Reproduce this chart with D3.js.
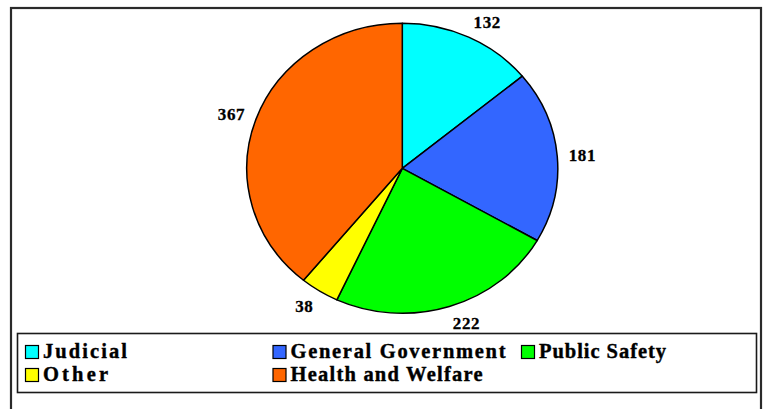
<!DOCTYPE html>
<html>
<head>
<meta charset="utf-8">
<script src="https://cdn.jsdelivr.net/npm/d3@7"></script>
<style>
  html, body { margin: 0; padding: 0; background: #fff; }
  svg { display: block; }
</style>
</head>
<body>
<svg id="chart" width="764" height="409"></svg>
<script>
// Expenditure categories, in drawing order (clockwise from 12 o'clock)
const categories = ["Judicial", "General Government", "Public Safety", "Other", "Health and Welfare"];
const values = [132, 181, 222, 38, 367];
const colors = ["#00FFFF", "#3366FF", "#00FF00", "#FFFF00", "#FF6600"];

// Legend layout: two rows, three columns
const legendRows = [
  ["Judicial", "General Government", "Public Safety"],
  ["Other", "Health and Welfare"]
];
const legendWidths = {
  "Judicial": 84, "General Government": 215, "Public Safety": 127,
  "Other": 65, "Health and Welfare": 192
};

const FONT = "Liberation Serif";

const svg = d3.select("#chart");
const W = 764, H = 409;

// Outer frame (open at the bottom edge of the page)
svg.append("rect")
  .attr("x", 11).attr("y", 8)
  .attr("width", 750).attr("height", H + 20)
  .attr("fill", "none")
  .attr("stroke", "#2a2a2a")
  .attr("stroke-width", 2.2);

// Pie geometry: slightly wider than tall
const cx = 402.3, cy = 168.3, rx = 155.5, ry = 145;
const yr = ry / rx;

const color = d3.scaleOrdinal().domain(categories).range(colors);
const pie = d3.pie().value(d => d.value).sort(null);
const data = categories.map((c, i) => ({ name: c, value: values[i] }));
const arcs = pie(data);
const arc = d3.arc().innerRadius(0).outerRadius(rx);

const g = svg.append("g")
  .attr("transform", `translate(${cx},${cy}) scale(1,${yr})`);

g.selectAll("path.slice")
  .data(arcs)
  .join("path")
  .attr("class", "slice")
  .attr("d", arc)
  .attr("fill", d => color(d.data.name))
  .attr("stroke", "#000")
  .attr("stroke-width", 1.5)
  .attr("vector-effect", "non-scaling-stroke")
  .attr("stroke-linejoin", "round");

// Value labels placed just outside the rim
const labelR = 167;
const capH = 13;
svg.selectAll("text.val")
  .data(arcs)
  .join("text")
  .attr("class", "val")
  .each(function(d) {
    const a = (d.startAngle + d.endAngle) / 2;
    const s = Math.sin(a), c = Math.cos(a);
    const px = cx + labelR * s;
    const py = cy - labelR * c * yr;
    const anchor = s > 0.15 ? "start" : (s < -0.15 ? "end" : "middle");
    d3.select(this)
      .attr("x", px)
      .attr("y", py + capH * (1 - c) / 2)
      .attr("text-anchor", anchor);
  })
  .attr("font-family", FONT)
  .attr("font-weight", "bold")
  .attr("font-size", 17)
  .attr("letter-spacing", 0.6)
  .attr("fill", "#000")
  .attr("stroke", "#000")
  .attr("stroke-width", 0.3)
  .text(d => d.data.value);

// Legend box
svg.append("rect")
  .attr("x", 17.5).attr("y", 333.5)
  .attr("width", 739).attr("height", 59)
  .attr("fill", "#fff")
  .attr("stroke", "#1a1a1a")
  .attr("stroke-width", 1.6);

const colX = [25, 272.5, 521];
const rowY = [345, 368];
const lg = svg.append("g");
legendRows.forEach((row, ri) => {
  row.forEach((name, ci) => {
    const item = lg.append("g").attr("transform", `translate(${colX[ci]},${rowY[ri]})`);
    item.append("rect")
      .attr("x", 0.5).attr("y", 0.5)
      .attr("width", 13).attr("height", 13)
      .attr("fill", color(name))
      .attr("stroke", "#000")
      .attr("stroke-width", 1.2);
    item.append("text")
      .attr("x", 18).attr("y", 13)
      .attr("font-family", FONT)
      .attr("font-weight", "bold")
      .attr("font-size", 20.5)
      .attr("fill", "#000")
      .attr("stroke", "#000")
      .attr("stroke-width", 0.4)
      .attr("textLength", legendWidths[name])
      .attr("lengthAdjust", "spacing")
      .text(name);
  });
});
</script>
</body>
</html>
